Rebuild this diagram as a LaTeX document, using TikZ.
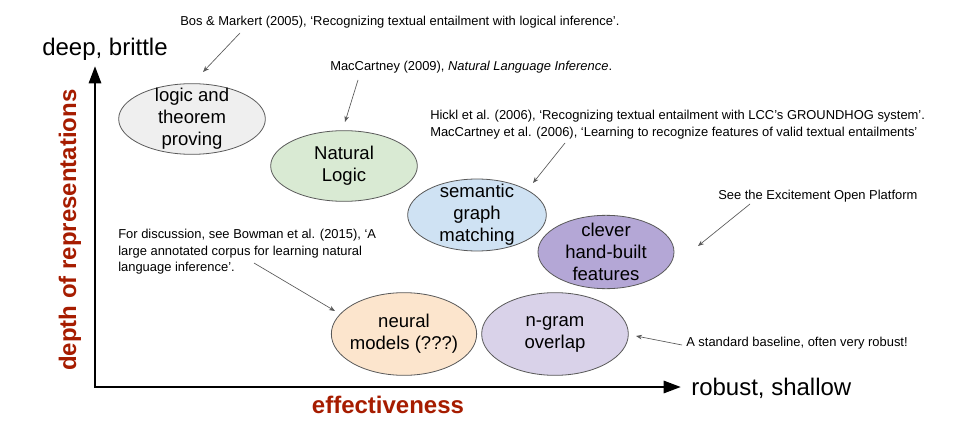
\documentclass[tikz,border=0pt]{standalone}
\usepackage{fontspec}
\setmainfont{Liberation Sans}
\usepackage{xcolor}
\usetikzlibrary{arrows.meta,shapes.geometric}

\definecolor{axisred}{RGB}{166,28,0}
\definecolor{logicfill}{HTML}{EFEFEF}
\definecolor{natfill}{HTML}{D9EAD3}
\definecolor{semfill}{HTML}{CFE2F3}
\definecolor{cleverfill}{HTML}{B4A7D6}
\definecolor{neuralfill}{HTML}{FCE5CD}
\definecolor{ngramfill}{HTML}{D9D2E9}
\definecolor{notegray}{HTML}{595959}

\begin{document}
\begin{tikzpicture}[
      x=0.75pt, y=-0.75pt,
      oval/.style={ellipse, draw=notegray, line width=0.6pt, inner sep=0pt, minimum width=110pt, minimum height=53pt},
      ovaltext/.style={align=center, inner sep=0pt, font=\fontsize{13.9}{16.5}\selectfont},
      note/.style={align=left, inner sep=0pt, anchor=west, font=\fontsize{9.7}{12.4}\selectfont},
      arr/.style={-{Stealth[length=4.5pt, width=3.5pt]}, draw=notegray, line width=0.5pt},
      axis/.style={{Triangle[length=13pt, width=9pt]}-{Triangle[length=13pt, width=9pt]}, line width=2.2pt, line join=miter},
      axislabel/.style={inner sep=0pt, font=\fontsize{18}{21}\selectfont},
      dimlabel/.style={inner sep=0pt, text=axisred, font=\fontsize{18}{21}\selectfont\bfseries}
    ]
      \useasboundingbox (0,0) rectangle (960,431);

      % axes
      \coordinate (origin) at (95,387);
      \coordinate (ytip) at (95,66);
      \coordinate (xtip) at (681,387);
      \draw[axis] (ytip) -- (origin) -- (xtip);
      \node[axislabel] (deep) at (105,49) {deep, brittle};
      \node[axislabel, anchor=west] (robust) at (691,388) {robust, shallow};
      \node[dimlabel] (effect) at (388,405) {effectiveness};
      \node[dimlabel, rotate=90] (depth) at (70,230) {depth of representations};

      % approaches
      \node[oval, fill=logicfill] (logic) at (192,119) {};
      \node[ovaltext] at (logic) {logic and\\theorem\\proving};
      \node[oval, fill=natfill] (natural) at (344,166) {};
      \node[ovaltext] at (natural) {Natural\\Logic};
      \node[oval, fill=semfill, minimum width=104pt, minimum height=54pt] (semantic) at (477,215) {};
      \node[ovaltext] at (semantic) {semantic\\graph\\matching};
      \node[oval, fill=cleverfill, minimum width=102pt, minimum height=55pt] (clever) at (606,252) {};
      \node[ovaltext] at (clever) {clever\\hand-built\\features};
      \node[oval, fill=neuralfill, minimum width=109pt, minimum height=62pt] (neural) at (404,334) {};
      \node[ovaltext] at (neural) {neural\\models (???)};
      \node[oval, fill=ngramfill, minimum width=110pt, minimum height=62pt] (ngram) at (555,334) {};
      \node[ovaltext] at (ngram) {n-gram\\overlap};

      % references
      \node[note] (bos) at (180,22) {Bos \& Markert (2005), ‘Recognizing textual entailment with logical inference’.};
      \node[note] (maccartney) at (330,67) {MacCartney (2009), \textit{Natural Language Inference}.};
      \node[note] (hickl) at (430,124.5) {Hickl et al. (2006), ‘Recognizing textual entailment with LCC’s GROUNDHOG system’.\\MacCartney et al. (2006), ‘Learning to recognize features of valid textual entailments’};
      \node[note] (excitement) at (718,196) {See the Excitement Open Platform};
      \node[note] (bowman) at (118,252) {For discussion, see Bowman et al. (2015), ‘A\\large annotated corpus for learning natural\\language inference’.};
      \node[note] (baseline) at (686,343) {A standard baseline, often very robust!};

      \coordinate (bostail) at (240,33);
      \coordinate (bostip) at (203,72);
      \coordinate (mactail) at (358,80);
      \coordinate (mactip) at (345,122);
      \coordinate (hickltail) at (565,143);
      \coordinate (hickltip) at (533,183);
      \coordinate (exctail) at (750,204);
      \coordinate (exctip) at (698,246);
      \coordinate (bowtail) at (254,263);
      \coordinate (bowtip) at (335,311);
      \coordinate (basetail) at (682,345);
      \coordinate (basetip) at (636,336);
      \draw[arr] (bostail) -- (bostip);
      \draw[arr] (mactail) -- (mactip);
      \draw[arr] (hickltail) -- (hickltip);
      \draw[arr] (exctail) -- (exctip);
      \draw[arr] (bowtail) -- (bowtip);
      \draw[arr] (basetail) -- (basetip);
    \end{tikzpicture}
\end{document}
